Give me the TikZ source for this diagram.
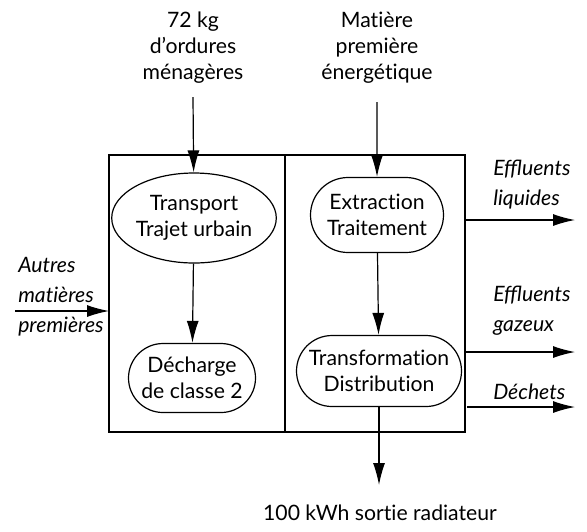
\documentclass[tikz,border=0pt]{standalone}
\usepackage{fontspec}
\setmainfont{Lato}[Ligatures=NoCommon]
\usetikzlibrary{shapes.geometric,shapes.misc,arrows.meta}
\newcommand\effl{{\addfontfeature{Ligatures=Common}Effluents}}

\begin{document}
\begin{tikzpicture}[x=.5pt,y=-.5pt,line width=.6pt,
	fleche/.style={-{Latex[length=11pt,width=6pt]}},
	etape/.style={draw,rounded rectangle,inner sep=0pt,align=center},
	lab/.style={align=center,font=\fontsize{10.6}{13}\selectfont},
	flux/.style={align=left,anchor=west,font=\fontsize{10.6}{15}\selectfont\itshape}]
	\useasboundingbox (0,0) rectangle (587,531);
	\draw (109,155) rectangle (285,432);
	\draw (285,155) rectangle (465,432);

	\node [lab] (ordures) at (193,48) {72 kg\\d'ordures\\ménagères};
	\node [lab] (matiere) at (377,48) {Matière\\première\\énergétique};
	\node [lab] (sortie) at (380,513) {100 kWh sortie radiateur};

	\node [draw,ellipse,inner sep=0pt,lab,minimum width=80.5pt,minimum height=45pt] (transp) at (194,218) {Transport\\Trajet urbain};
	\node [etape,lab,minimum width=63.5pt,minimum height=34.5pt] (dech) at (192,378) {Décharge\\de classe 2};
	\node [etape,lab,minimum width=66.5pt,minimum height=37.5pt] (extr) at (377,215) {Extraction\\Traitement};
	\node [etape,lab,minimum width=82.5pt,minimum height=35.5pt] (transf) at (379,371) {Transformation\\Distribution};

	\node [flux] (autres) at (11,297) {Autres\\matières\\premières};
	\node [flux] (liq) at (486,185) {\effl\\liquides};
	\node [flux] (gaz) at (486,311) {\effl\\gazeux};
	\node [flux] (dechets) at (486,392) {Déchets};

	\coordinate (o1) at (193,97);
	\coordinate (m1) at (377,102);
	\coordinate (s1) at (379,485);
	\coordinate (a0) at (15,311);
	\coordinate (a1) at (109,311);
	\coordinate (l0) at (465,220);
	\coordinate (l1) at (575,220);
	\coordinate (g0) at (465,352);
	\coordinate (g1) at (575,352);
	\coordinate (d0) at (467,407);
	\coordinate (d1) at (575,407);

	\draw [fleche] (o1) -- (transp);
	\draw [fleche] (m1) -- (extr);
	\draw [fleche] (transp) -- (dech);
	\draw [fleche] (extr) -- (transf);
	\draw [fleche] (transf) -- (s1);
	\draw [fleche] (a0) -- (a1);
	\draw [fleche] (l0) -- (l1);
	\draw [fleche] (g0) -- (g1);
	\draw [fleche] (d0) -- (d1);
\end{tikzpicture}
\end{document}
